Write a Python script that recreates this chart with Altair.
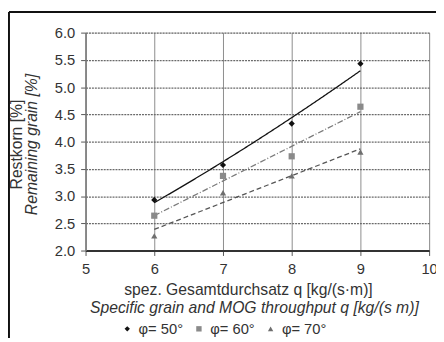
import altair as alt
import pandas as pd

# ---- data ----
q_values = [6, 7, 8, 9]
rest_50 = [2.93, 3.57, 4.33, 5.43]
rest_60 = [2.64, 3.37, 3.73, 4.64]
rest_70 = [2.27, 3.06, 3.37, 3.81]
series_names = ["φ= 50°", "φ= 60°", "φ= 70°"]
series_colors = ["#111111", "#8a8a8a", "#6e6e6e"]
series_shapes = ["diamond", "square", "triangle-up"]
trend_methods = ["pow", "linear", "linear"]
trend_colors = ["#111111", "#7a7a7a", "#555555"]
trend_dashes = [[1, 0], [6, 2, 1, 2], [5, 3]]

x_ticks = [5, 6, 7, 8, 9, 10]
y_ticks = [2.0, 2.5, 3.0, 3.5, 4.0, 4.5, 5.0, 5.5, 6.0]

y_title_de = ["Restkorn [%]"]
y_title_en = ["Remaining grain [%]"]
x_title_de = ["spez. Gesamtdurchsatz q [kg/(s·m)]"]
x_title_en = ["Specific grain and MOG throughput q [kg/(s m)]"]

FONT = "Liberation Sans"

rows = []
for name, vals in zip(series_names, [rest_50, rest_60, rest_70]):
    for q, r in zip(q_values, vals):
        rows.append({"series": name, "q": q, "r": r})
df = pd.DataFrame(rows)

xscale = alt.Scale(domain=[5, 10], nice=False, zero=False)
yscale = alt.Scale(domain=[2, 6], nice=False, zero=False)

x_axis = alt.Axis(values=x_ticks, format="d", title=None, grid=True,
                  gridColor="#8c8c8c", gridWidth=1,
                  domainColor="#333333", domainWidth=2,
                  tickColor="#555555", tickSize=5,
                  labelFont=FONT, labelFontSize=15, labelColor="#333333",
                  labelPadding=6, labelFlush=False, labelOverlap=False)
y_axis = alt.Axis(values=y_ticks, format=".1f", title=None, grid=True,
                  gridColor="#6a6a6a", gridWidth=1.3, gridDash=[2, 1],
                  domainColor="#777777", domainWidth=1.5,
                  tickColor="#555555", tickSize=5,
                  labelFont=FONT, labelFontSize=15, labelColor="#333333",
                  labelPadding=6, labelFlush=False, labelOverlap=False)

X = alt.X("q:Q", scale=xscale, axis=x_axis)
Y = alt.Y("r:Q", scale=yscale, axis=y_axis)

base = alt.Chart(df)

trend_layers = []
for name, meth, col, dash in zip(series_names, trend_methods, trend_colors, trend_dashes):
    trend_layers.append(
        base.transform_filter(alt.datum.series == name)
        .transform_regression("q", "r", method=meth, extent=[6, 9])
        .mark_line(color=col, strokeWidth=1.3, strokeDash=dash)
        .encode(x=X, y=Y)
    )

points = base.mark_point(filled=True, opacity=1, size=40).encode(
    x=X,
    y=Y,
    color=alt.Color("series:N", scale=alt.Scale(domain=series_names, range=series_colors),
                    legend=alt.Legend(title=None, orient="none", legendX=35, legendY=294,
                                      direction="horizontal", labelFont=FONT,
                                      labelFontSize=15, labelColor="#333333",
                                      symbolSize=30, labelOffset=4, columnPadding=8,
                                      padding=0)),
    shape=alt.Shape("series:N", scale=alt.Scale(domain=series_names, range=series_shapes)),
)

def label(texts, x, y, angle=0, italic=False, size=16):
    return alt.Chart(pd.DataFrame({"t": texts})).mark_text(
        font=FONT, fontSize=size, color="#333333", angle=angle,
        fontStyle="italic" if italic else "normal", align="center", baseline="middle",
    ).encode(text="t:N", x=alt.value(x), y=alt.value(y))

titles = [
    label(y_title_de, -70, 114, angle=270),
    label(y_title_en, -54, 114, angle=270, italic=True),
    label(x_title_de, 166, 262),
    label(x_title_en, 172, 281, italic=True),
]

frame = [
    alt.Chart(pd.DataFrame({"k": [0]})).mark_rule(color="#111111", strokeWidth=2).encode(
        x=alt.value(-78), x2=alt.value(400), y=alt.value(-21)),
    alt.Chart(pd.DataFrame({"k": [0]})).mark_rule(color="#111111", strokeWidth=2).encode(
        x=alt.value(-78), y=alt.value(-21), y2=alt.value(330)),
]

chart = alt.layer(*trend_layers, points, *titles, *frame).properties(
    width=350, height=222,
    autosize=alt.AutoSizeParams(type="none"),
    padding={"left": 79, "top": 22, "right": 7, "bottom": 86},
).configure_view(stroke=None).configure(background="white")

chart.save("out.html", embed_options={"renderer": "svg", "actions": False})
